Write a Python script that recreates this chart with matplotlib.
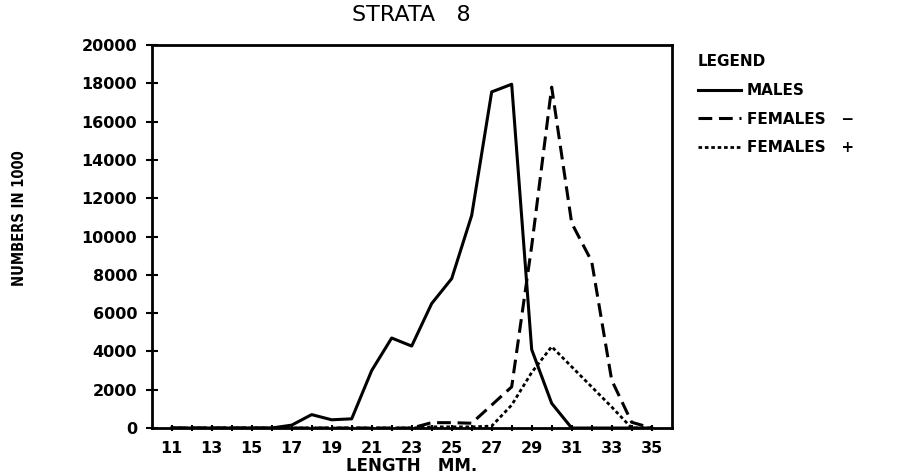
import matplotlib
matplotlib.use("Agg")
import matplotlib.pyplot as plt
import numpy as np

# length classes (mm)
lengths = list(range(11, 36))

males = [0, 0, 0, 0, 0, 0, 150, 700, 430, 480, 3000, 4700, 4280, 6500, 7800,
         11100, 17550, 17950, 4100, 1290, 0, 0, 0, 0, 0]
females_minus = [0, 0, 0, 0, 0, 0, 0, 0, 0, 0, 0, 0, 0, 280, 280,
                 250, 1200, 2150, 9500, 17800, 10700, 8700, 2500, 300, 0]
females_plus = [0, 0, 0, 0, 0, 0, 0, 0, 0, 0, 0, 0, 0, 60, 60,
                60, 100, 1200, 2900, 4250, 3200, 2150, 1100, 0, 0]

yticks = list(range(0, 20001, 2000))

fig = plt.figure(figsize=(9.12, 4.75), dpi=100)
ax = fig.add_axes([0.1663, 0.0989, 0.5702, 0.8064])

ax.plot(lengths, males, color="black", lw=2.2, ls="-", label="MALES")
ax.plot(lengths, females_minus, color="black", lw=2.2, ls=(0, (4.5, 2.2)),
        label="FEMALES   \u2212")
ax.plot(lengths, females_plus, color="black", lw=2.0, ls=(0, (1.3, 1.0)),
        label="FEMALES   +")

ax.set_xlim(10, 36)
ax.set_ylim(0, 20000)
ax.set_xticks(lengths)
ax.set_xticklabels([str(v) if v % 2 == 1 else "" for v in lengths])
ax.set_yticks(yticks)
ax.set_yticklabels([str(v) for v in yticks])

for s in ax.spines.values():
    s.set_linewidth(2)
ax.tick_params(axis="x", direction="inout", length=4, width=1.5, pad=7,
               labelsize=11.5)
ax.tick_params(axis="y", direction="inout", length=9, width=1.5, pad=6,
               labelsize=11.5)
for lab in ax.get_xticklabels() + ax.get_yticklabels():
    lab.set_fontweight("bold")

ax.set_title("STRATA   8", fontsize=16, pad=17)
ax.set_xlabel("LENGTH   MM.", fontsize=12, fontweight="bold", labelpad=1)
fig.text(0.021, 0.54, "NUMBERS IN 1000", rotation=90, ha="center", va="center",
         fontsize=10.5, family="DejaVu Sans", stretch="condensed",
         fontweight="bold")

leg = ax.legend(loc="upper left", bbox_to_anchor=(0.75, 0.915),
                bbox_transform=fig.transFigure, frameon=False,
                title="LEGEND", alignment="left", fontsize=11,
                handlelength=2.8, handletextpad=0.4, labelspacing=0.9)
leg.get_title().set_fontsize(11)
leg.get_title().set_fontweight("bold")
for t in leg.get_texts():
    t.set_fontweight("bold")

fig.savefig("out.png", dpi=100)
